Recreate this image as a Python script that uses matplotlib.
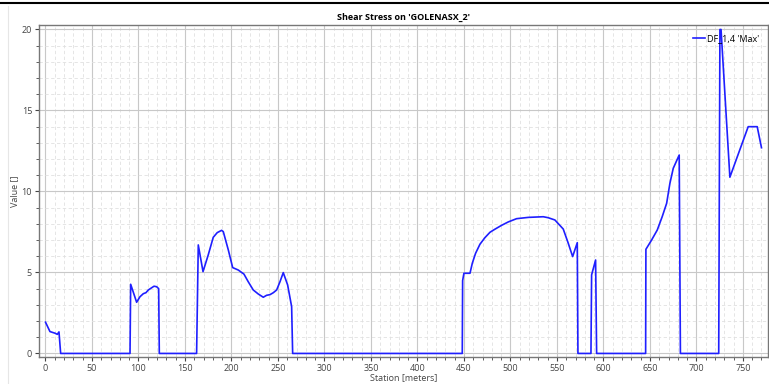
import matplotlib
matplotlib.use('Agg')
import matplotlib.pyplot as plt
from matplotlib.lines import Line2D
from matplotlib.ticker import MultipleLocator

# station [m] and shear stress values
station = [0, 4.8, 10.2, 12.7, 14.5, 16.3, 90.9, 91.6, 98, 101.6, 105.2, 108, 110.6,
           116.7, 119.5, 121.7, 122.4, 162.5, 164.3, 169.4, 175, 180.4, 184.7, 189.4,
           191.2, 196.6, 201.3, 207.3, 213.4, 218, 223.4, 228.8, 234.2, 237.8, 241.4,
           245, 248.6, 252.2, 255.7, 260.4, 264.7, 265.8, 448.2, 448.6, 450, 456.5,
           459, 462.5, 467.2, 472.6, 478, 483.3, 490.5, 497.7, 506.6, 519.2, 535.3,
           540.6, 547.8, 556.8, 562.2, 566.9, 571.9, 572.6, 586.6, 587.3, 591.6, 592.7,
           645.4, 645.7, 651.8, 657.9, 663.2, 668, 671.5, 675.1, 681.5, 682.8, 724.0,
           725.3, 726.5, 736, 755.7, 765.4, 770]
shear = [1.93, 1.35, 1.25, 1.18, 1.33, 0, 0, 4.27, 3.16, 3.5, 3.69, 3.75, 3.92,
         4.15, 4.12, 4.0, 0, 0, 6.7, 5.05, 6.08, 7.17, 7.46, 7.6,
         7.52, 6.39, 5.3, 5.15, 4.9, 4.43, 3.92, 3.67, 3.47, 3.59, 3.63,
         3.75, 3.92, 4.43, 4.99, 4.23, 2.89, 0, 0, 4.5, 4.95, 4.95,
         5.57, 6.18, 6.74, 7.15, 7.48, 7.67, 7.91, 8.12, 8.32, 8.4, 8.44,
         8.38, 8.24, 7.68, 6.8, 5.98, 6.84, 0, 0, 4.85, 5.77, 0,
         0, 6.43, 7.0, 7.62, 8.44, 9.27, 10.5, 11.43, 12.25, 0, 0,
         20.0, 20.0, 10.88, 14.0, 14.0, 12.7]

series_name = "DF_1,4 'Max'"
chart_title = "Shear Stress on 'GOLENASX_2'"

plt.rcParams['font.family'] = ['Open Sans', 'DejaVu Sans']

fig = plt.figure(figsize=(7.69, 3.84), dpi=100)
ax = fig.add_axes([0.0507, 0.0703, 0.948, 0.8647])

ax.plot(station, shear, color='#1f1fff', linewidth=1.2, label=series_name)

ax.set_xlim(-7, 777)
ax.set_ylim(-0.22, 20.28)

# major / minor ticks and grid
ax.xaxis.set_major_locator(MultipleLocator(50))
ax.xaxis.set_minor_locator(MultipleLocator(10))
ax.yaxis.set_major_locator(MultipleLocator(5))
ax.yaxis.set_minor_locator(MultipleLocator(1))
ax.grid(which='major', color='#c8c8c8', linewidth=0.8)
ax.grid(which='minor', color='#e0e0e0', linewidth=0.6, linestyle=(0, (4, 3)))
ax.set_axisbelow(True)

ax.tick_params(which='major', labelsize=6.5, colors='#444444', length=3, width=0.8, pad=2)
ax.tick_params(which='minor', length=2, width=0.6, colors='#444444')
for side in ['left', 'bottom', 'top', 'right']:
    ax.spines[side].set_color('#777777')
    ax.spines[side].set_linewidth(1.0)

ax.set_title(chart_title, fontsize=6.5, fontweight='bold', pad=4)
ax.set_xlabel('Station [meters]', fontsize=6.5, color='#444444', labelpad=0)
ax.set_ylabel('Value []', fontsize=6.5, color='#444444', labelpad=2)

ax.legend(loc='upper right', frameon=False, fontsize=6.5, handlelength=1.3,
          handletextpad=0.2, borderaxespad=0.6)

# window decoration at the top / left
fig.add_artist(Line2D([0, 1], [0.993, 0.993], color='black', linewidth=1.5))
fig.add_artist(Line2D([0.0105, 0.0105], [0.0, 0.985], color='#e6e6e6', linewidth=0.8))

plt.savefig('out.png', dpi=100)
